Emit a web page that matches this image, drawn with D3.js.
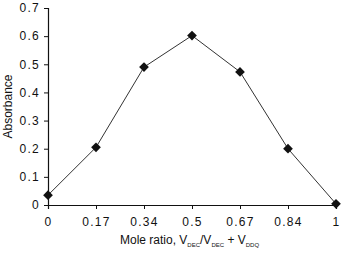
<!DOCTYPE html>
<html>
<head>
<meta charset="utf-8">
<script src="https://cdn.jsdelivr.net/npm/d3@7"></script>
<style>
  body { margin: 0; background: #fff; }
  text { font-family: "Liberation Sans", Arial, sans-serif; fill: #111; }
</style>
</head>
<body>
<svg id="chart" width="345" height="254"></svg>
<script>
const moleRatio = ["0", "0.17", "0.34", "0.5", "0.67", "0.84", "1"];
const absorbance = [0.035, 0.205, 0.49, 0.602, 0.473, 0.2, 0.004];
const yTicks = [0, 0.1, 0.2, 0.3, 0.4, 0.5, 0.6, 0.7];

const margin = { top: 8, right: 9, bottom: 49, left: 48 };
const width = 345 - margin.left - margin.right;
const height = 254 - margin.top - margin.bottom;

const svg = d3.select("#chart");
const g = svg.append("g").attr("transform", `translate(${margin.left},${margin.top})`);

const x = d3.scalePoint().domain(moleRatio).range([0, width]);
const y = d3.scaleLinear().domain([0, 0.7]).range([height, 0]);

const yAxis = g.append("g")
    .call(d3.axisLeft(y).tickValues(yTicks).tickFormat(d => d === 0 ? "0" : d3.format(".1f")(d)).tickSize(4).tickPadding(4));
const xAxis = g.append("g")
    .attr("transform", `translate(0,${height})`)
    .call(d3.axisBottom(x).tickSize(4).tickPadding(8));

[xAxis, yAxis].forEach(a => {
  a.select(".domain").attr("stroke", "#111").attr("stroke-width", 1.2);
  a.selectAll(".tick line").attr("stroke", "#111");
  a.selectAll("text").style("font-size", "12px").style("letter-spacing", "1.3px").attr("fill", "#111");
});

const line = d3.line()
    .x((d, i) => x(moleRatio[i]))
    .y(d => y(d));

g.append("path")
    .datum(absorbance)
    .attr("fill", "none")
    .attr("stroke", "#333")
    .attr("stroke-width", 1)
    .attr("d", line);

g.selectAll(".pt")
    .data(absorbance)
    .join("path")
    .attr("class", "pt")
    .attr("transform", (d, i) => `translate(${x(moleRatio[i])},${y(d)})`)
    .attr("d", d3.symbol(d3.symbolDiamond2, 60))
    .attr("fill", "#111");

svg.append("text")
    .attr("transform", `translate(12,${margin.top + height / 2}) rotate(-90)`)
    .attr("text-anchor", "middle")
    .style("font-size", "12px")
    .text("Absorbance");

const xl = svg.append("text")
    .attr("x", 120)
    .attr("y", 244)
    .style("font-size", "12px");
xl.append("tspan").text("Mole ratio, V");
xl.append("tspan").attr("dy", 3).style("font-size", "6px").text("DEC");
xl.append("tspan").attr("dy", -3).text("/V");
xl.append("tspan").attr("dy", 3).style("font-size", "6px").text("DEC");
xl.append("tspan").attr("dy", -3).text(" + V");
xl.append("tspan").attr("dy", 3).style("font-size", "6px").text("DDQ");
</script>
</body>
</html>
